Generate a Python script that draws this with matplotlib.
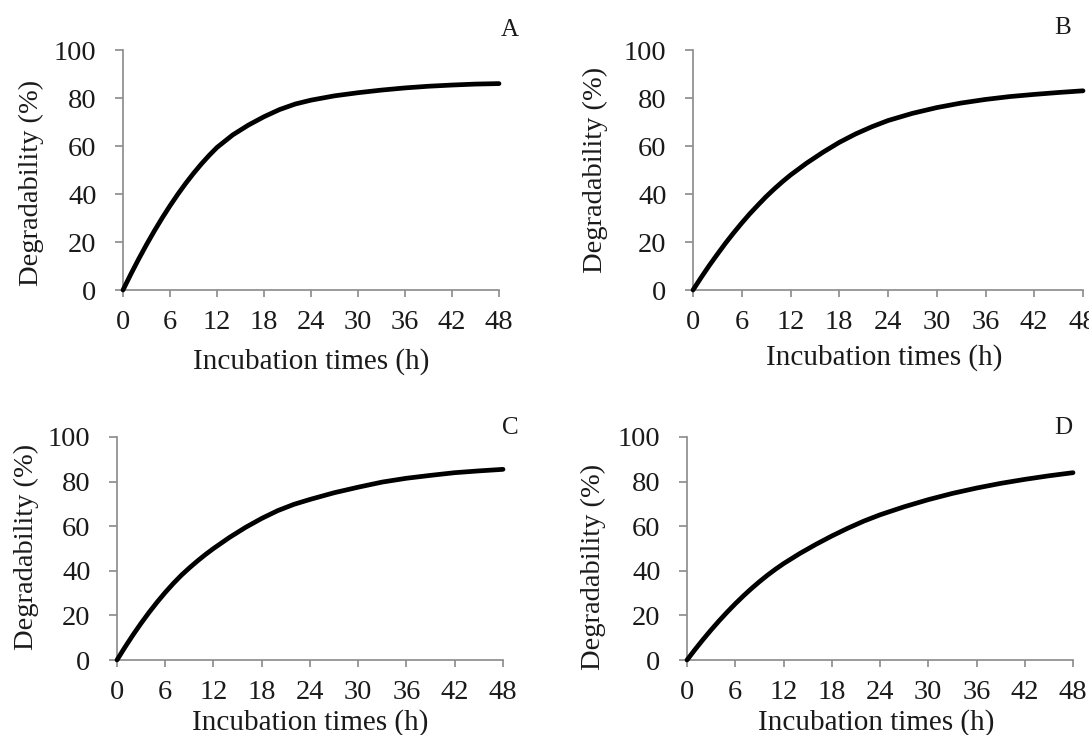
import matplotlib
matplotlib.use("Agg")
import matplotlib.pyplot as plt

plt.rcParams['font.family'] = ['Liberation Serif', 'DejaVu Serif']

# Incubation times (h) at which the curves were read
hours = [0, 1, 2, 3, 4, 5, 6, 7, 8, 9, 10, 11, 12, 14, 16, 18, 20, 22, 24,
         27, 30, 33, 36, 39, 42, 45, 48]

deg_A = [0, 6.6, 12.9, 18.9, 24.6, 30, 35.1, 39.9, 44.4, 48.6, 52.5, 56.1, 59.4,
         64.6, 68.7, 72.2, 75.2, 77.5, 79.1, 80.9, 82.2, 83.3, 84.2, 84.9, 85.4, 85.8, 86]
deg_B = [0, 5.2, 10.2, 14.9, 19.5, 23.8, 27.9, 31.8, 35.4, 38.9, 42.1, 45.1, 47.9,
         52.9, 57.4, 61.5, 65, 68, 70.6, 73.6, 76, 77.9, 79.4, 80.6, 81.5, 82.3, 83]
deg_C = [0, 5.8, 11.3, 16.5, 21.4, 26, 30.3, 34.3, 38, 41.3, 44.4, 47.3, 50,
         55, 59.5, 63.5, 67, 69.8, 72, 75, 77.5, 79.8, 81.5, 82.8, 84, 84.8, 85.5]
deg_D = [0, 4.7, 9.2, 13.5, 17.6, 21.5, 25.2, 28.7, 32, 35.1, 38, 40.7, 43.2,
         47.7, 51.8, 55.6, 59.1, 62.3, 65.1, 68.7, 71.9, 74.7, 77.1, 79.2, 81, 82.6, 84]

panel_letters = ['A', 'B', 'C', 'D']
x_ticks = [0, 6, 12, 18, 24, 30, 36, 42, 48]
y_ticks = [0, 20, 40, 60, 80, 100]
x_label = 'Incubation times (h)'
y_label = 'Degradability (%)'

W, H = 1089, 735
fig = plt.figure(figsize=(W / 100, H / 100), dpi=100)

# layout in pixels: (left, right, top, bottom), y-label centre, x-label centre, letter pos
layout = [
    dict(box=(123, 499, 50, 290), yl=(31, 183), xl=(311, 362), let=(510, 30)),
    dict(box=(693, 1083, 50, 290), yl=(595, 170), xl=(884, 358), let=(1063, 28)),
    dict(box=(117, 503, 437, 660), yl=(26, 547), xl=(310, 723), let=(510, 428)),
    dict(box=(687, 1073, 437, 660), yl=(593, 567), xl=(876, 723), let=(1063, 428)),
]
series = [deg_A, deg_B, deg_C, deg_D]
axis_col = '#8a8a8a'
txt_col = '#1a1a1a'
fs = 20.5

for lay, ys, letter in zip(layout, series, panel_letters):
    l, r, t, b = lay['box']
    ax = fig.add_axes([l / W, 1 - b / H, (r - l) / W, (b - t) / H])
    ax.plot(hours, ys, color='black', lw=3.4, solid_capstyle='round',
            solid_joinstyle='round', clip_on=False, zorder=5)
    ax.set_xlim(0, 48)
    ax.set_ylim(0, 100)
    ax.set_xticks(x_ticks)
    ax.set_yticks(y_ticks)
    for s in ['top', 'right']:
        ax.spines[s].set_visible(False)
    for s in ['left', 'bottom']:
        ax.spines[s].set_color(axis_col)
        ax.spines[s].set_linewidth(1.2)
    ax.tick_params(axis='x', direction='out', length=5, width=1.2, color=axis_col,
                   labelsize=fs, pad=9.5, labelcolor=txt_col)
    ax.tick_params(axis='y', direction='out', length=6, width=1.2, color=axis_col,
                   labelsize=fs, pad=13, labelcolor=txt_col)
    ax.patch.set_alpha(0)
    fig.text(lay['yl'][0] / W, 1 - lay['yl'][1] / H, y_label, rotation=90,
             ha='center', va='center', fontsize=fs, color=txt_col)
    fig.text(lay['xl'][0] / W, 1 - lay['xl'][1] / H, x_label,
             ha='center', va='center', fontsize=21, color=txt_col)
    fig.text(lay['let'][0] / W, 1 - lay['let'][1] / H, letter,
             ha='center', va='center', fontsize=18, color=txt_col)

fig.savefig('out.png', dpi=100)
